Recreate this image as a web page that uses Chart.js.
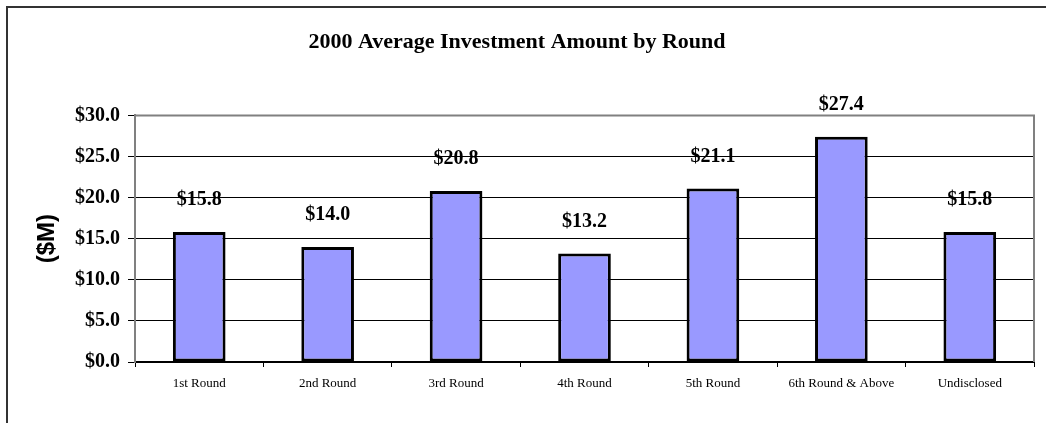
<!DOCTYPE html>
<html>
<head>
<meta charset="utf-8">
<script src="https://cdn.jsdelivr.net/npm/chart.js@4/dist/chart.umd.min.js"></script>
<style>
  html, body { margin: 0; padding: 0; background: #fff; }
  #wrap { width: 1046px; height: 423px; position: relative; }
</style>
</head>
<body>
<div id="wrap"><canvas id="roundChart" width="1046" height="423"></canvas></div>
<script>
const rounds = ['1st Round', '2nd Round', '3rd Round', '4th Round', '5th Round', '6th Round & Above', 'Undisclosed'];
const avgInvestment = [15.8, 14.0, 20.8, 13.2, 21.1, 27.4, 15.8];

// frame around the whole picture (top + left visible) and gray plot border
const framePlugin = {
    id: 'frame',
    beforeDraw(chart) {
        const ctx = chart.ctx;
        ctx.save();
        ctx.strokeStyle = '#333';
        ctx.lineWidth = 2;
        ctx.beginPath();
        ctx.moveTo(7, 423);
        ctx.lineTo(7, 7);
        ctx.lineTo(1046, 7);
        ctx.stroke();
        ctx.restore();
    },
    afterDatasetsDraw(chart) {
        const a = chart.chartArea;
        const ctx = chart.ctx;
        ctx.save();
        ctx.strokeStyle = '#808080';
        ctx.lineWidth = 2;
        ctx.beginPath();
        ctx.moveTo(a.left, a.top);
        ctx.lineTo(a.right, a.top);
        ctx.lineTo(a.right, a.bottom);
        ctx.stroke();
        ctx.restore();
    }
};

// value labels above the bars
const valueLabels = {
    id: 'valueLabels',
    afterDatasetsDraw(chart) {
        const ctx = chart.ctx;
        const meta = chart.getDatasetMeta(0);
        ctx.save();
        ctx.font = 'bold 20px "Liberation Serif", serif';
        ctx.fillStyle = '#000';
        ctx.textAlign = 'center';
        ctx.textBaseline = 'bottom';
        meta.data.forEach((bar, i) => {
            ctx.fillText('$' + avgInvestment[i].toFixed(1), bar.x, bar.y - 22);
        });
        ctx.restore();
    }
};

const ctx = document.getElementById('roundChart').getContext('2d');
const myChart = new Chart(ctx, {
    type: 'bar',
    data: {
        labels: rounds,
        datasets: [{
            data: avgInvestment,
            backgroundColor: '#9999FF',
            borderColor: '#000',
            borderWidth: 3,
            borderSkipped: false,
            barPercentage: 0.82,
            categoryPercentage: 0.5
        }]
    },
    options: {
        responsive: false,
        animation: false,
        devicePixelRatio: 1,
        layout: { padding: { left: 0, right: 12, top: 0, bottom: 0 } },
        plugins: {
            legend: { display: false },
            tooltip: { enabled: false },
            title: {
                display: true,
                text: '2000 Average Investment Amount by Round',
                color: '#000',
                font: { family: '"Liberation Serif", serif', size: 22, weight: 'bold' },
                padding: { top: 29, bottom: 60 }
            }
        },
        scales: {
            x: {
                offset: true,
                grid: {
                    offset: true,
                    drawOnChartArea: false,
                    drawTicks: true,
                    tickLength: 5,
                    tickColor: '#000'
                },
                border: { color: '#000', width: 2 },
                ticks: {
                    color: '#000',
                    padding: 9,
                    maxRotation: 0,
                    autoSkip: false,
                    font: { family: '"Liberation Serif", serif', size: 13 }
                },
                afterFit(scale) { scale.height = 61; }
            },
            y: {
                min: 0,
                max: 30,
                ticks: {
                    stepSize: 5,
                    color: '#000',
                    padding: 8,
                    font: { family: '"Liberation Serif", serif', size: 20, weight: 'bold' },
                    callback: v => '$' + Number(v).toFixed(1)
                },
                grid: {
                    color: '#000',
                    tickColor: '#000',
                    tickLength: 7,
                    lineWidth: 1
                },
                border: { color: '#808080', width: 2 },
                title: {
                    display: true,
                    text: '($M)',
                    color: '#000',
                    font: { family: '"Liberation Sans", Arial, sans-serif', size: 24, weight: 'bold' },
                    padding: { top: 33, bottom: 0 }
                },
                afterFit(scale) { scale.width = 135; }
            }
        }
    },
    plugins: [framePlugin, valueLabels]
});
</script>
</body>
</html>
